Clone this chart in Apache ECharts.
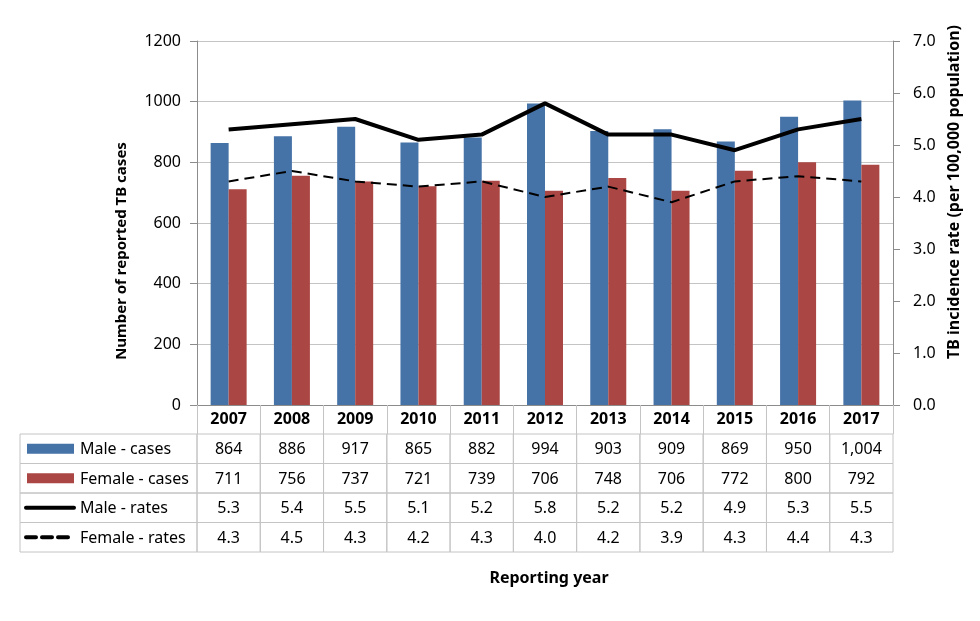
<!DOCTYPE html>
<html>
<head>
<meta charset="utf-8">
<script src="https://cdn.jsdelivr.net/npm/echarts@6/dist/echarts.min.js"></script>
<style>
html,body{margin:0;padding:0;background:#fff;}
#chart{width:980px;height:621px;}
</style>
</head>
<body>
<div id="chart"></div>
<script>
var years = ['2007','2008','2009','2010','2011','2012','2013','2014','2015','2016','2017'];
var maleCases = [864, 886, 917, 865, 882, 994, 903, 909, 869, 950, 1004];
var femaleCases = [711, 756, 737, 721, 739, 706, 748, 706, 772, 800, 792];
var maleRates = [5.3, 5.4, 5.5, 5.1, 5.2, 5.8, 5.2, 5.2, 4.9, 5.3, 5.5];
var femaleRates = [4.3, 4.5, 4.3, 4.2, 4.3, 4.0, 4.2, 3.9, 4.3, 4.4, 4.3];
var rowNames = ['Male - cases', 'Female - cases', 'Male - rates', 'Female - rates'];
var leftTicks = {min: 0, max: 1200, interval: 200};
var rightTicks = {min: 0, max: 7, interval: 1};

var FONT = '"Noto Sans", "Liberation Sans", sans-serif';
var BLUE = '#4572A7', RED = '#AA4643';
var GRID_C = '#c4c4c4', AXIS_C = '#8c8c8c';
var LEGEND_W = 177;

function fmtCases(v){ return v.toLocaleString('en-US'); }
function fmtRate(v){ return v.toFixed(1); }

var tableRows = [
  maleCases.map(fmtCases),
  femaleCases.map(fmtCases),
  maleRates.map(fmtRate),
  femaleRates.map(fmtRate)
];
var tableData = [];
for (var r = 0; r < tableRows.length; r++) {
  for (var c = 0; c < years.length; c++) {
    tableData.push([c, r, tableRows[r][c]]);
  }
}
var swatches = [
  {kind: 'bar', color: BLUE},
  {kind: 'bar', color: RED},
  {kind: 'line', width: 4, dash: null},
  {kind: 'line', width: 4, dash: [10, 6]}
];

function renderCell(params, api) {
  var c = api.value(0), r = api.value(1);
  var center = api.coord([c, r]);
  var size = api.size([1, 1]);
  var x = center[0] - size[0] / 2, y = center[1] - size[1] / 2;
  var children = [
    {type: 'rect', shape: {x: x, y: y, width: size[0], height: size[1]},
     style: {fill: 'none', stroke: GRID_C, lineWidth: 1}},
    {type: 'text', x: center[0], y: center[1] + 1,
     style: {text: tableData[params.dataIndex][2], fill: '#000', font: '16px ' + FONT,
             align: 'center', verticalAlign: 'middle'}}
  ];
  if (c === 0) {
    var lx = x - LEGEND_W;
    children.push({type: 'rect', shape: {x: lx, y: y, width: LEGEND_W, height: size[1]},
      style: {fill: 'none', stroke: GRID_C, lineWidth: 1}});
    var sw = swatches[r];
    if (sw.kind === 'bar') {
      children.push({type: 'rect', shape: {x: lx + 7, y: center[1] - 5, width: 47, height: 10},
        style: {fill: sw.color}});
    } else {
      children.push({type: 'line', shape: {x1: lx + 6, y1: center[1], x2: lx + 54, y2: center[1]},
        style: {stroke: '#000', lineWidth: sw.width, lineDash: sw.dash, lineCap: 'round'}});
    }
    children.push({type: 'text', x: lx + 60, y: center[1] + 1,
      style: {text: rowNames[r], fill: '#000', font: '16px ' + FONT, align: 'left', verticalAlign: 'middle'}});
  }
  return {type: 'group', children: children};
}

var chart = echarts.init(document.getElementById('chart'), null, {renderer: 'canvas'});
chart.setOption({
  animation: false,
  backgroundColor: '#fff',
  textStyle: {fontFamily: FONT},
  grid: [
    {left: 197, right: 87, top: 41, bottom: 216, containLabel: false},
    {left: 197, right: 87, top: 434, bottom: 69, containLabel: false}
  ],
  xAxis: [
    {type: 'category', gridIndex: 0, data: years, boundaryGap: true,
     axisLine: {show: true, lineStyle: {color: AXIS_C, width: 1}},
     axisTick: {show: true, interval: 0, length: 29, lineStyle: {color: GRID_C}},
     axisLabel: {interval: 0, margin: 6, color: '#000', fontSize: 16, fontWeight: 'bold', fontFamily: FONT},
     splitLine: {show: false}},
    {type: 'category', gridIndex: 1, data: years, boundaryGap: true,
     axisLine: {show: false}, axisTick: {show: false}, axisLabel: {show: false}, splitLine: {show: false},
     name: 'Reporting year', nameLocation: 'middle', nameGap: 18,
     nameTextStyle: {color: '#000', fontSize: 16, fontWeight: 'bold', fontFamily: FONT, padding: [0, 0, 0, 8]}}
  ],
  yAxis: [
    {type: 'value', gridIndex: 0, position: 'left', min: leftTicks.min, max: leftTicks.max, interval: leftTicks.interval,
     axisLine: {show: true, lineStyle: {color: AXIS_C}},
     axisTick: {show: true, length: 7, lineStyle: {color: AXIS_C}},
     axisLabel: {margin: 16, color: '#000', fontSize: 16, fontFamily: FONT, formatter: function(v){ return String(v); }},
     splitLine: {show: true, lineStyle: {color: GRID_C, width: 1}},
     name: 'Number of reported TB cases', nameLocation: 'middle', nameRotate: 90, nameGap: 68,
     nameTextStyle: {color: '#000', fontSize: 15, fontWeight: 'bold', fontFamily: FONT, padding: [0, 56, 0, 0]}},
    {type: 'value', gridIndex: 0, position: 'right', min: rightTicks.min, max: rightTicks.max, interval: rightTicks.interval,
     axisLine: {show: true, lineStyle: {color: AXIS_C}},
     axisTick: {show: true, length: 7, lineStyle: {color: AXIS_C}},
     axisLabel: {margin: 20, color: '#000', fontSize: 16, fontFamily: FONT, formatter: function(v){ return v.toFixed(1); }},
     splitLine: {show: false},
     name: 'TB incidence rate (per 100,000 population)', nameLocation: 'middle', nameRotate: 90, nameGap: 50,
     nameTextStyle: {color: '#000', fontSize: 16, fontWeight: 'bold', fontFamily: FONT, padding: [0, 0, 0, 62]}},
    {type: 'category', gridIndex: 1, data: rowNames, inverse: true, show: false}
  ],
  series: [
    {name: 'Male - cases', type: 'bar', xAxisIndex: 0, yAxisIndex: 0, data: maleCases,
     barWidth: 18, barGap: '0%', itemStyle: {color: BLUE}},
    {name: 'Female - cases', type: 'bar', xAxisIndex: 0, yAxisIndex: 0, data: femaleCases,
     barWidth: 18, barGap: '0%', itemStyle: {color: RED}},
    {name: 'Male - rates', type: 'line', xAxisIndex: 0, yAxisIndex: 1, data: maleRates,
     symbol: 'none', lineStyle: {color: '#000', width: 4}, z: 5},
    {name: 'Female - rates', type: 'line', xAxisIndex: 0, yAxisIndex: 1, data: femaleRates,
     symbol: 'none', lineStyle: {color: '#000', width: 2, type: [10, 6]}, z: 5},
    {name: 'table', type: 'custom', xAxisIndex: 1, yAxisIndex: 2, data: tableData,
     renderItem: renderCell, silent: true, clip: false}
  ]
});
</script>
</body>
</html>
